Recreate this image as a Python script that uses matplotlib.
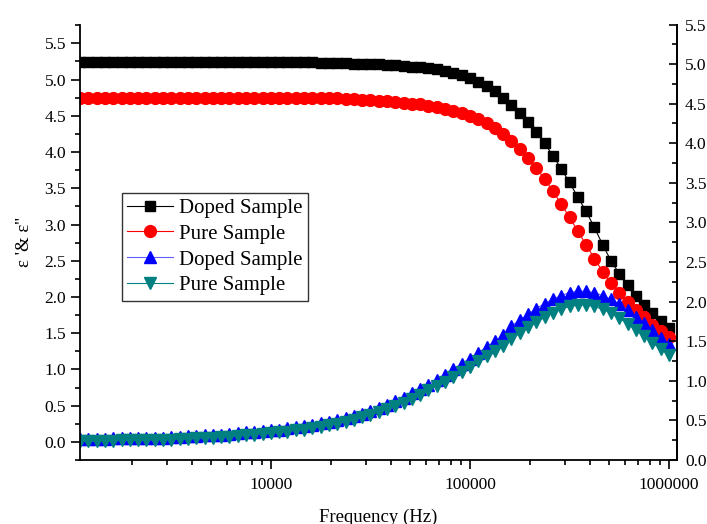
import matplotlib

matplotlib.use("Agg")
import matplotlib.pyplot as plt
from matplotlib.ticker import FixedLocator, LogLocator, MultipleLocator, NullFormatter, FormatStrFormatter

plt.rcParams["font.family"] = ["Liberation Serif", "DejaVu Serif"]

# frequency sweep (Hz), 24 points per decade
freq = [
    1101, 1212, 1334, 1468, 1616, 1778, 1957, 2154, 2371, 2610, 2873, 3162,
    3481, 3831, 4217, 4642, 5109, 5623, 6190, 6813, 7499, 8254, 9085, 10000,
    11007, 12115, 13335, 14678, 16156, 17783, 19573, 21544, 23714, 26102, 28730, 31623,
    34807, 38312, 42170, 46416, 51090, 56234, 61897, 68129, 74989, 82540, 90852, 100000,
    110070, 121150, 133350, 146780, 161560, 177830, 195730, 215440, 237140, 261020, 287300, 316230,
    348070, 383120, 421700, 464160, 510900, 562340, 618970, 681290, 749890, 825400, 908520, 1000000,
]

# eps' doped (black squares)
eps1_doped = [
    5.24, 5.24, 5.24, 5.24, 5.24, 5.24, 5.24, 5.24, 5.24, 5.24, 5.24, 5.24,
    5.24, 5.24, 5.24, 5.24, 5.24, 5.24, 5.24, 5.24, 5.24, 5.24, 5.24, 5.24,
    5.24, 5.24, 5.24, 5.24, 5.24, 5.23, 5.23, 5.23, 5.23, 5.22, 5.22, 5.21,
    5.21, 5.20, 5.20, 5.19, 5.18, 5.17, 5.16, 5.14, 5.12, 5.09, 5.06, 5.02,
    4.97, 4.91, 4.84, 4.75, 4.65, 4.54, 4.41, 4.27, 4.12, 3.95, 3.77, 3.58,
    3.38, 3.18, 2.96, 2.72, 2.50, 2.32, 2.16, 2.02, 1.89, 1.78, 1.67, 1.57,
]

# eps' pure (red circles)
eps1_pure = [
    4.75, 4.75, 4.75, 4.75, 4.75, 4.75, 4.75, 4.75, 4.75, 4.75, 4.75, 4.75,
    4.75, 4.75, 4.75, 4.75, 4.75, 4.75, 4.75, 4.75, 4.75, 4.75, 4.75, 4.75,
    4.75, 4.75, 4.75, 4.75, 4.75, 4.74, 4.74, 4.74, 4.73, 4.73, 4.72, 4.72,
    4.71, 4.70, 4.69, 4.68, 4.67, 4.66, 4.64, 4.62, 4.60, 4.57, 4.54, 4.50,
    4.45, 4.40, 4.33, 4.25, 4.15, 4.04, 3.92, 3.78, 3.63, 3.46, 3.28, 3.10,
    2.91, 2.72, 2.53, 2.35, 2.19, 2.05, 1.93, 1.82, 1.72, 1.62, 1.53, 1.45,
]

# eps'' doped (blue up triangles)
eps2_doped = [
    0.04, 0.04, 0.04, 0.04, 0.05, 0.05, 0.05, 0.05, 0.06, 0.06, 0.06, 0.07,
    0.07, 0.08, 0.08, 0.09, 0.10, 0.10, 0.11, 0.12, 0.13, 0.14, 0.15, 0.16,
    0.17, 0.19, 0.20, 0.22, 0.24, 0.26, 0.28, 0.30, 0.33, 0.36, 0.39, 0.43,
    0.47, 0.51, 0.56, 0.61, 0.67, 0.73, 0.79, 0.86, 0.93, 1.00, 1.08, 1.15,
    1.23, 1.31, 1.39, 1.47, 1.60, 1.68, 1.76, 1.84, 1.91, 1.97, 2.02, 2.06,
    2.08, 2.08, 2.06, 2.02, 1.97, 1.90, 1.82, 1.73, 1.64, 1.54, 1.44, 1.35,
]

# eps'' pure (teal down triangles)
eps2_pure = [
    0.01, 0.01, 0.01, 0.01, 0.01, 0.02, 0.02, 0.02, 0.02, 0.03, 0.03, 0.03,
    0.04, 0.04, 0.05, 0.05, 0.06, 0.07, 0.07, 0.08, 0.09, 0.10, 0.11, 0.12,
    0.13, 0.14, 0.16, 0.17, 0.19, 0.21, 0.23, 0.25, 0.28, 0.30, 0.34, 0.37,
    0.41, 0.45, 0.49, 0.54, 0.59, 0.65, 0.71, 0.77, 0.83, 0.90, 0.97, 1.04,
    1.11, 1.18, 1.25, 1.32, 1.42, 1.50, 1.58, 1.65, 1.72, 1.78, 1.83, 1.87,
    1.89, 1.89, 1.87, 1.83, 1.78, 1.71, 1.63, 1.55, 1.46, 1.37, 1.28, 1.20,
]

labels = ["Doped Sample", "Pure Sample", "Doped Sample", "Pure Sample"]
teal = "#008080"

fig = plt.figure(figsize=(7.07, 5.24), dpi=100)
ax = fig.add_axes([0.1132, 0.1221, 0.8440, 0.8311])

ax.plot(freq, eps1_doped, color="black", lw=0.8, marker="s", ms=7.8, mec="black", label=labels[0])
ax.plot(freq, eps1_pure, color="red", lw=0.8, marker="o", ms=8.5, mec="red", label=labels[1])
ax.plot(freq, eps2_doped, color="#6060ff", lw=0.8, marker="^", mfc="blue", ms=8.5, mec="blue", label=labels[2])
ax.plot(freq, eps2_pure, color=teal, lw=0.8, marker="v", ms=8.5, mec=teal, label=labels[3])

ax.set_xscale("log")
ax.set_xlim(1100, 1.093e6)
ax.set_ylim(-0.25, 5.76)

ax.xaxis.set_major_locator(FixedLocator([1e4, 1e5, 1e6]))
ax.set_xticklabels(["10000", "100000", "1000000"])
ax.xaxis.set_minor_locator(LogLocator(base=10, subs=range(2, 10)))
ax.xaxis.set_minor_formatter(NullFormatter())

ax.yaxis.set_major_locator(MultipleLocator(0.5))
ax.yaxis.set_minor_locator(MultipleLocator(0.25))
ax.yaxis.set_major_formatter(FormatStrFormatter("%.1f"))

ax.spines["top"].set_visible(False)
for s in ("left", "bottom", "right"):
    ax.spines[s].set_linewidth(1.3)

ax.tick_params(axis="both", which="major", direction="out", length=6.5, width=1.2, labelsize=12.5)
ax.tick_params(axis="both", which="minor", direction="out", length=3.5, width=1.2)
ax.tick_params(axis="x", which="major", pad=6)

ax.set_xlabel("Frequency (Hz)", fontsize=13.5, labelpad=11)
ax.set_ylabel("ε '& ε''", fontsize=13.5, labelpad=8)

# right axis, independent scale 0 - 5.5
ax2 = ax.twinx()
ax2.set_ylim(0, 5.5)
ax2.yaxis.set_major_locator(MultipleLocator(0.5))
ax2.yaxis.set_minor_locator(MultipleLocator(0.25))
ax2.yaxis.set_major_formatter(FormatStrFormatter("%.1f"))
for s in ("top", "left", "bottom"):
    ax2.spines[s].set_visible(False)
ax2.spines["right"].set_linewidth(1.3)
ax2.tick_params(axis="y", which="major", direction="in", length=6, width=1.2, labelsize=12.5, pad=6)
ax2.tick_params(axis="y", which="minor", direction="in", length=3.5, width=1.2)

leg = ax.legend(loc="upper left", bbox_to_anchor=(0.07, 0.613), borderaxespad=0,
                fontsize=15, frameon=True, fancybox=False, edgecolor="black",
                handlelength=2.2, handletextpad=0.3, labelspacing=0.3, borderpad=0.25)
leg.get_frame().set_linewidth(1.0)

fig.savefig("out.png", dpi=100)
